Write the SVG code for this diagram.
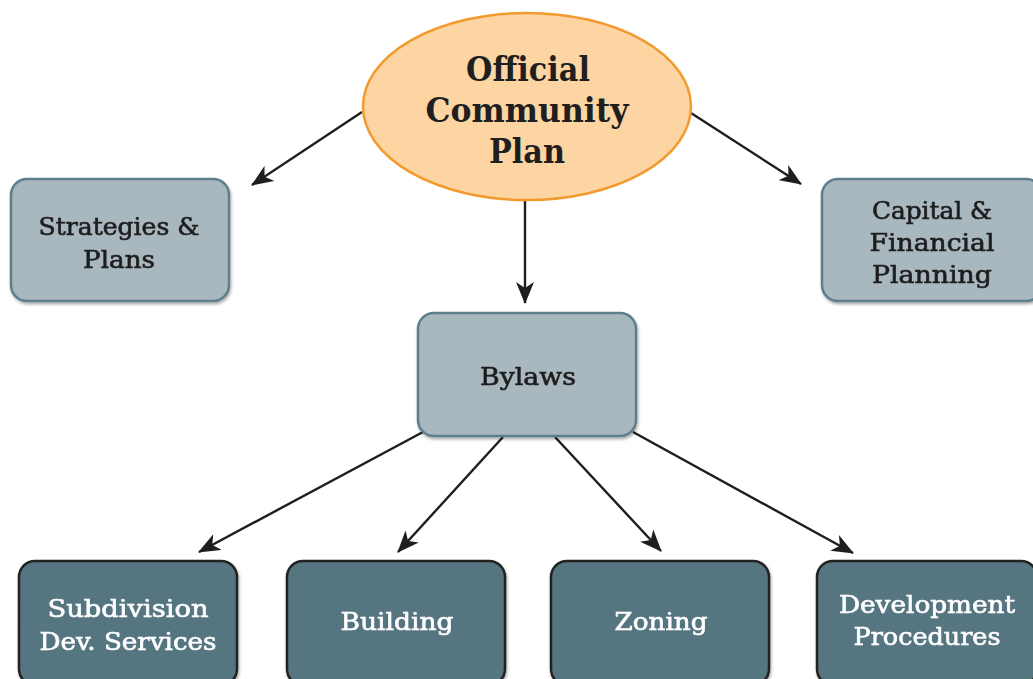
<svg xmlns="http://www.w3.org/2000/svg" width="1033" height="679" viewBox="0 0 1033 679">
<defs>
<marker id="ah" viewBox="0 0 22 18" refX="21" refY="9" markerWidth="22" markerHeight="18" markerUnits="userSpaceOnUse" orient="auto">
<path d="M0,0 L22,9 L0,18 L6,9 Z" fill="#1e1e1e"/>
</marker>
<filter id="sh" x="-10%" y="-10%" width="120%" height="130%">
<feDropShadow dx="1" dy="2" stdDeviation="1.5" flood-color="#000" flood-opacity="0.35"/>
</filter>
</defs>
<style>
.t{font-family:"DejaVu Serif Condensed","DejaVu Serif",serif;text-anchor:middle;stroke-width:0.6;}
.b{font-weight:bold;stroke-width:0;}
.dk{fill:#1f1f1f;stroke:#1f1f1f;}
.wt{fill:#ffffff;stroke:#ffffff;}
.lt{fill:#a9b8bf;stroke:#5d7f8c;stroke-width:2.5;}
.db{fill:#557481;stroke:#222;stroke-width:2.5;}
.c{stroke:#1e1e1e;stroke-width:2.4;fill:none;marker-end:url(#ah);}
</style>
<rect width="1033" height="679" fill="#fff"/>
<g id="connectors">
<line class="c" x1="362" y1="112" x2="252" y2="185"/>
<line class="c" x1="691" y1="113" x2="801" y2="184"/>
<line class="c" x1="525" y1="200" x2="525" y2="303"/>
<line class="c" x1="423" y1="432" x2="199" y2="552"/>
<line class="c" x1="503" y1="437" x2="398" y2="552"/>
<line class="c" x1="555" y1="437" x2="661" y2="551"/>
<line class="c" x1="633" y1="432" x2="853" y2="553"/>
</g>
<g id="ocp">
<ellipse cx="527" cy="106.5" rx="164" ry="93.5" fill="#fcd5a3" stroke="#f39a2e" stroke-width="2.5"/>
<text class="t b dk" font-size="34" x="528" y="81" textLength="124" lengthAdjust="spacingAndGlyphs">Official</text>
<text class="t b dk" font-size="34" x="527" y="122" textLength="203" lengthAdjust="spacingAndGlyphs">Community</text>
<text class="t b dk" font-size="34" x="527" y="163" textLength="76" lengthAdjust="spacingAndGlyphs">Plan</text>
</g>
<g id="strategies" filter="url(#sh)">
<rect class="lt" x="11" y="179" width="218" height="122" rx="16"/>
<text class="t dk" font-size="25" x="119" y="235" textLength="161" lengthAdjust="spacingAndGlyphs">Strategies &amp;</text>
<text class="t dk" font-size="25" x="119" y="268" textLength="72" lengthAdjust="spacingAndGlyphs">Plans</text>
</g>
<g id="capital" filter="url(#sh)">
<rect class="lt" x="822" y="179" width="220" height="122" rx="16"/>
<text class="t dk" font-size="25" x="932" y="219" textLength="120" lengthAdjust="spacingAndGlyphs">Capital &amp;</text>
<text class="t dk" font-size="25" x="932" y="251" textLength="125" lengthAdjust="spacingAndGlyphs">Financial</text>
<text class="t dk" font-size="25" x="932" y="283" textLength="120" lengthAdjust="spacingAndGlyphs">Planning</text>
</g>
<g id="bylaws" filter="url(#sh)">
<rect class="lt" x="418" y="313" width="218" height="123" rx="16"/>
<text class="t dk" font-size="25" x="528" y="385" textLength="96" lengthAdjust="spacingAndGlyphs">Bylaws</text>
</g>
<g id="subdivision" filter="url(#sh)">
<rect class="db" x="19" y="561" width="218" height="124" rx="16"/>
<text class="t wt" font-size="25" x="128" y="617" textLength="161" lengthAdjust="spacingAndGlyphs">Subdivision</text>
<text class="t wt" font-size="25" x="128" y="650" textLength="177" lengthAdjust="spacingAndGlyphs">Dev. Services</text>
</g>
<g id="building" filter="url(#sh)">
<rect class="db" x="287" y="561" width="218" height="124" rx="16"/>
<text class="t wt" font-size="25" x="397" y="630" textLength="113" lengthAdjust="spacingAndGlyphs">Building</text>
</g>
<g id="zoning" filter="url(#sh)">
<rect class="db" x="551" y="561" width="218" height="124" rx="16"/>
<text class="t wt" font-size="25" x="661" y="630" textLength="93" lengthAdjust="spacingAndGlyphs">Zoning</text>
</g>
<g id="development" filter="url(#sh)">
<rect class="db" x="817" y="561" width="220" height="124" rx="16"/>
<text class="t wt" font-size="25" x="927" y="613" textLength="176" lengthAdjust="spacingAndGlyphs">Development</text>
<text class="t wt" font-size="25" x="927" y="645" textLength="147" lengthAdjust="spacingAndGlyphs">Procedures</text>
</g>
</svg>
